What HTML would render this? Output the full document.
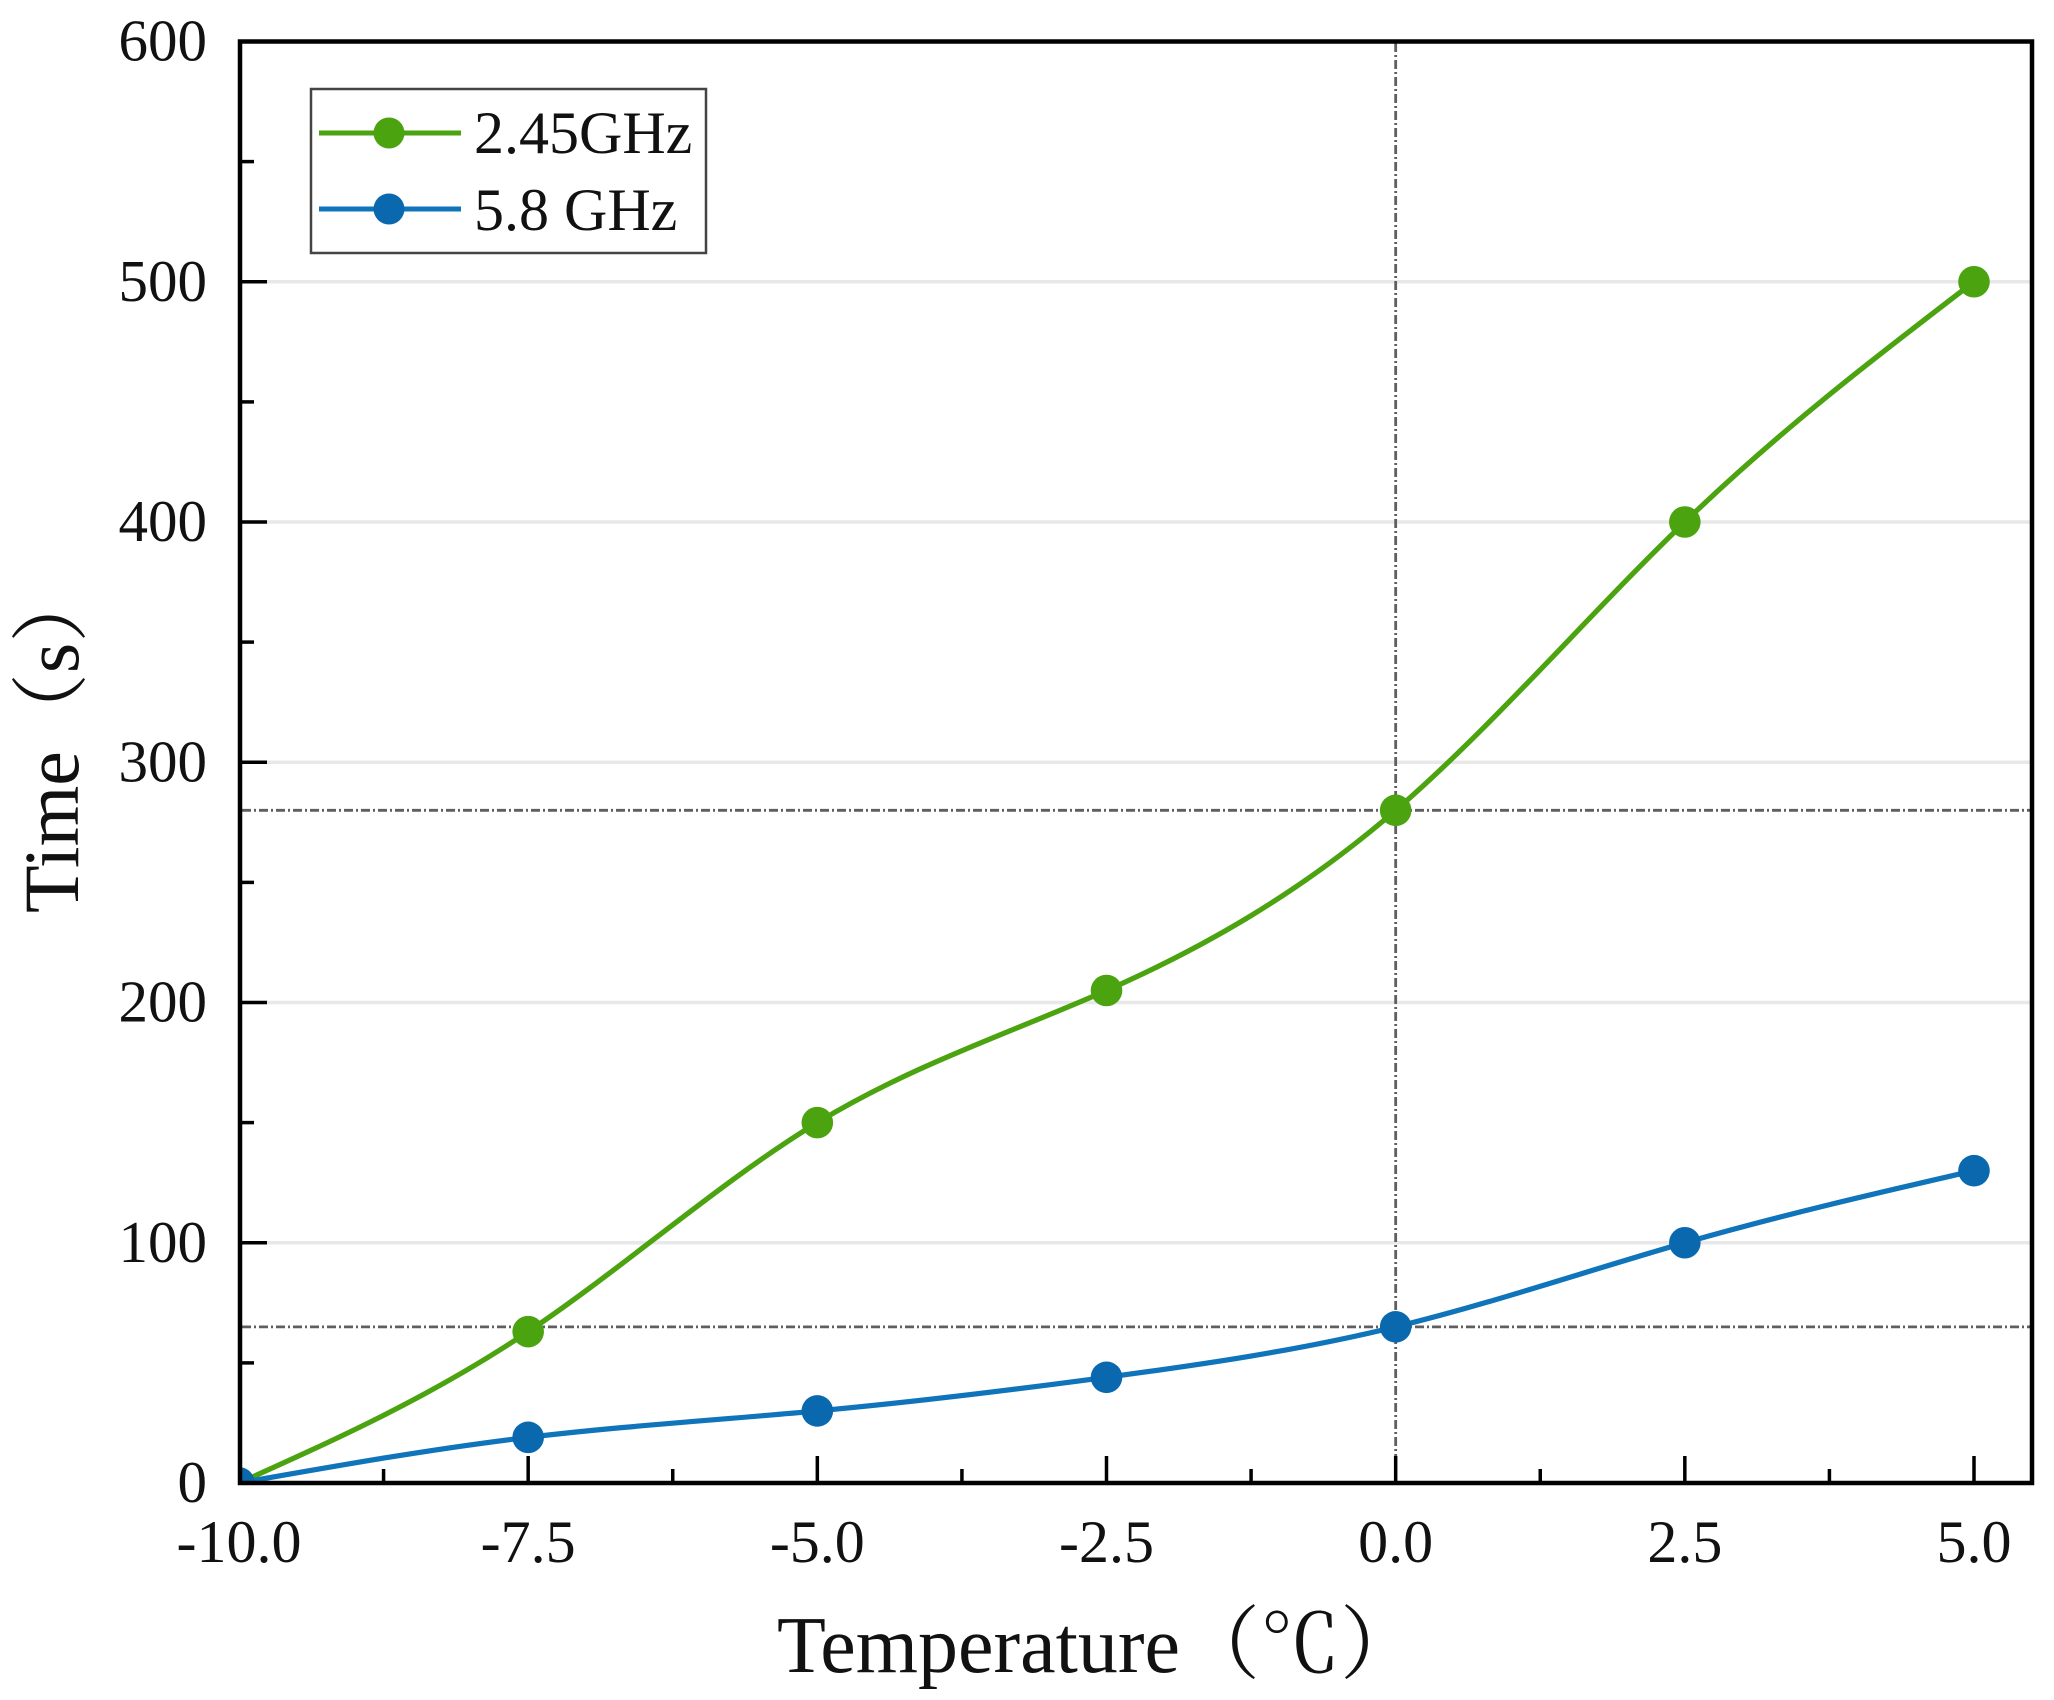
<!DOCTYPE html>
<html>
<head>
<meta charset="utf-8">
<style>
html,body{margin:0;padding:0;background:#fff;}
svg{display:block;}
text{font-family:"Liberation Serif","Noto Serif CJK SC",serif;fill:#111;}
</style>
</head>
<body>
<svg width="2054" height="1700" viewBox="0 0 2054 1700" xmlns="http://www.w3.org/2000/svg">
<defs>
<clipPath id="plot"><rect x="242" y="43" width="1788" height="1438"/></clipPath>
</defs>
<rect x="0" y="0" width="2054" height="1700" fill="#fff"/>

<!-- gridlines -->
<g stroke="#e8e8e8" stroke-width="3.5">
<line x1="242" y1="1242.75" x2="2030" y2="1242.75"/>
<line x1="242" y1="1002.5" x2="2030" y2="1002.5"/>
<line x1="242" y1="762.25" x2="2030" y2="762.25"/>
<line x1="242" y1="522" x2="2030" y2="522"/>
<line x1="242" y1="281.75" x2="2030" y2="281.75"/>
</g>

<!-- dash-dot reference lines -->
<g stroke="#5f5f5f" stroke-width="2.8" stroke-dasharray="9 3 2 3" fill="none">
<line x1="1395.67" y1="43" x2="1395.67" y2="1481"/>
<line x1="242" y1="810.3" x2="2030" y2="810.3"/>
<line x1="242" y1="1326.84" x2="2030" y2="1326.84"/>
</g>

<g clip-path="url(#plot)">
<!-- green curve -->
<path fill="none" stroke="#4aa30f" stroke-width="5.2" stroke-linejoin="round"
 d="M239,1483 C335.39,1439.64 431.78,1396.28 528.17,1331.64
 C624.56,1267.01 720.94,1181.09 817.33,1122.63
 C913.72,1064.16 1010.11,1033.15 1106.5,990.49
 C1202.89,947.83 1299.28,893.53 1395.67,810.3
 C1492.06,727.07 1588.44,614.91 1684.83,522
 C1781.22,429.09 1877.61,355.42 1974,281.75"/>
<!-- blue curve -->
<path fill="none" stroke="#0f74ba" stroke-width="5.2" stroke-linejoin="round"
 d="M239,1483 C335.39,1465.94 431.78,1448.88 528.17,1437.35
 C624.56,1425.83 720.94,1419.83 817.33,1410.92
 C913.72,1402.02 1010.11,1390.21 1106.5,1377.29
 C1202.89,1364.37 1299.28,1350.34 1395.67,1326.84
 C1492.06,1303.33 1588.44,1270.36 1684.83,1242.75
 C1781.22,1215.14 1877.61,1192.91 1974,1170.67"/>

<!-- green markers -->
<g fill="#4aa30f">
<circle cx="239" cy="1483" r="15.8"/>
<circle cx="528.17" cy="1331.64" r="15.8"/>
<circle cx="817.33" cy="1122.63" r="15.8"/>
<circle cx="1106.5" cy="990.49" r="15.8"/>
<circle cx="1395.67" cy="810.3" r="15.8"/>
<circle cx="1684.83" cy="522" r="15.8"/>
<circle cx="1974" cy="281.75" r="15.8"/>
</g>
<!-- blue markers -->
<g fill="#0a68ae">
<circle cx="239" cy="1483" r="15.8"/>
<circle cx="528.17" cy="1437.35" r="15.8"/>
<circle cx="817.33" cy="1410.92" r="15.8"/>
<circle cx="1106.5" cy="1377.29" r="15.8"/>
<circle cx="1395.67" cy="1326.84" r="15.8"/>
<circle cx="1684.83" cy="1242.75" r="15.8"/>
<circle cx="1974" cy="1170.67" r="15.8"/>
</g>
</g>

<!-- axes frame -->
<rect x="240" y="41.5" width="1792" height="1441.5" fill="none" stroke="#000" stroke-width="4.5"/>

<!-- x ticks -->
<g stroke="#000" stroke-width="3.5">
<line x1="528.17" y1="1483" x2="528.17" y2="1456"/>
<line x1="817.33" y1="1483" x2="817.33" y2="1456"/>
<line x1="1106.5" y1="1483" x2="1106.5" y2="1456"/>
<line x1="1395.67" y1="1483" x2="1395.67" y2="1456"/>
<line x1="1684.83" y1="1483" x2="1684.83" y2="1456"/>
<line x1="1974" y1="1483" x2="1974" y2="1456"/>
<line x1="383.58" y1="1483" x2="383.58" y2="1469"/>
<line x1="672.75" y1="1483" x2="672.75" y2="1469"/>
<line x1="961.92" y1="1483" x2="961.92" y2="1469"/>
<line x1="1251.08" y1="1483" x2="1251.08" y2="1469"/>
<line x1="1540.25" y1="1483" x2="1540.25" y2="1469"/>
<line x1="1829.42" y1="1483" x2="1829.42" y2="1469"/>
<!-- y ticks -->
<line x1="240" y1="1242.75" x2="267" y2="1242.75"/>
<line x1="240" y1="1002.5" x2="267" y2="1002.5"/>
<line x1="240" y1="762.25" x2="267" y2="762.25"/>
<line x1="240" y1="522" x2="267" y2="522"/>
<line x1="240" y1="281.75" x2="267" y2="281.75"/>
<line x1="240" y1="1362.9" x2="254" y2="1362.9"/>
<line x1="240" y1="1122.6" x2="254" y2="1122.6"/>
<line x1="240" y1="882.4" x2="254" y2="882.4"/>
<line x1="240" y1="642.1" x2="254" y2="642.1"/>
<line x1="240" y1="401.9" x2="254" y2="401.9"/>
<line x1="240" y1="161.6" x2="254" y2="161.6"/>
</g>

<!-- y tick labels -->
<g font-size="59" text-anchor="end">
<text x="207" y="1502">0</text>
<text x="207" y="1261.75">100</text>
<text x="207" y="1021.5">200</text>
<text x="207" y="781.25">300</text>
<text x="207" y="541">400</text>
<text x="207" y="300.75">500</text>
<text x="207" y="60.5">600</text>
</g>

<!-- x tick labels -->
<g font-size="60" text-anchor="middle">
<text x="239" y="1562">-10.0</text>
<text x="528.17" y="1562">-7.5</text>
<text x="817.33" y="1562">-5.0</text>
<text x="1106.5" y="1562">-2.5</text>
<text x="1395.67" y="1562">0.0</text>
<text x="1684.83" y="1562">2.5</text>
<text x="1974" y="1562">5.0</text>
</g>

<!-- axis titles -->
<text x="777" y="1672" font-size="80">Temperature（℃）</text>
<text transform="translate(78,913) rotate(-90)" font-size="78">Time（s）</text>

<!-- legend -->
<rect x="311" y="89" width="395" height="164" fill="#fff" stroke="#444" stroke-width="2.5"/>
<line x1="319" y1="133" x2="461" y2="133" stroke="#4aa30f" stroke-width="5"/>
<circle cx="389" cy="133" r="15.5" fill="#4aa30f"/>
<line x1="319" y1="209" x2="461" y2="209" stroke="#0f74ba" stroke-width="5"/>
<circle cx="389" cy="209" r="15.5" fill="#0a68ae"/>
<text x="474" y="153" font-size="60">2.45GHz</text>
<text x="474" y="230" font-size="60">5.8 GHz</text>
</svg>
</body>
</html>
